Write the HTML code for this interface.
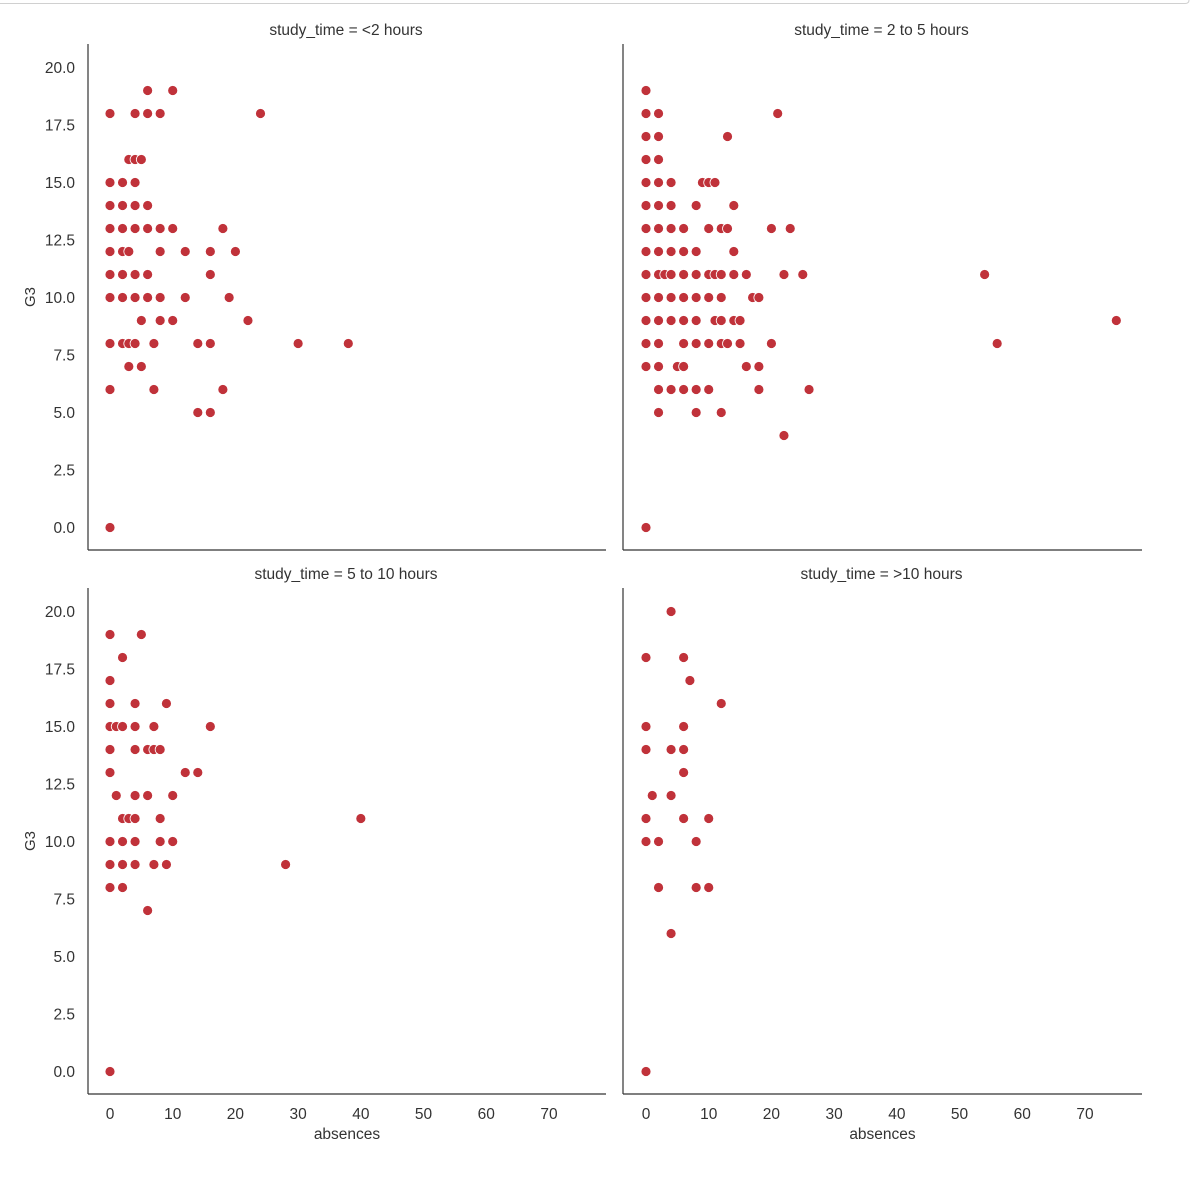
<!DOCTYPE html>
<html><head><meta charset="utf-8"><style>
html,body{margin:0;padding:0;background:#fff;}
svg{display:block;font-family:"Liberation Sans",Arial,sans-serif;}
</style></head><body>
<svg id="s" width="1192" height="1180" xmlns="http://www.w3.org/2000/svg">
<rect x="0" y="0" width="1192" height="1180" fill="#fff"/>
<path d="M0,3.5 H1185 Q1189,3.5 1189,0" fill="none" stroke="#d0d0d0"/>
</svg>
<script>
var s=document.getElementById('s'),NS='http://www.w3.org/2000/svg';
function el(t,a,txt){var e=document.createElementNS(NS,t);for(var k in a)e.setAttribute(k,a[k]);if(txt!=null)e.textContent=txt;s.appendChild(e);return e;}
var panels=[
{x0:88,x1:606,y0:44,y1:550,xz:110,yz:527,title:"study_time = <2 hours",left:1,bottom:0,
d:{19:[6,10],18:[0,4,6,8,24],16:[3,4,5],15:[0,2,4],14:[0,2,4,6],13:[0,2,4,6,8,10,18],12:[0,2,3,8,12,16,20],11:[0,2,4,6,16],10:[0,2,4,6,8,12,19],9:[5,8,10,22],8:[0,2,3,4,7,14,16,30,38],7:[3,5],6:[0,7,18],5:[14,16],0:[0]}},
{x0:623,x1:1142,y0:44,y1:550,xz:646,yz:527,title:"study_time = 2 to 5 hours",left:0,bottom:0,
d:{19:[0],18:[0,2,21],17:[0,2,13],16:[0,2],15:[0,2,4,9,10,11],14:[0,2,4,8,14],13:[0,2,4,6,10,12,13,20,23],12:[0,2,4,6,8,14],11:[0,2,3,4,6,8,10,11,12,14,16,22,25,54],10:[0,2,4,6,8,10,12,17,18],9:[0,2,4,6,8,11,12,14,15,75],8:[0,2,6,8,10,12,13,15,20,56],7:[0,2,5,6,16,18],6:[2,4,6,8,10,18,26],5:[2,8,12],4:[22],0:[0]}},
{x0:88,x1:606,y0:588,y1:1094,xz:110,yz:1071,title:"study_time = 5 to 10 hours",left:1,bottom:1,
d:{19:[0,5],18:[2],17:[0],16:[0,4,9],15:[0,1,2,4,7,16],14:[0,4,6,7,8],13:[0,12,14],12:[1,4,6,10],11:[2,3,4,8,40],10:[0,2,4,8,10],9:[0,2,4,7,9,28],8:[0,2],7:[6],0:[0]}},
{x0:623,x1:1142,y0:588,y1:1094,xz:646,yz:1071,title:"study_time = >10 hours",left:0,bottom:1,
d:{20:[4],18:[0,6],17:[7],16:[12],15:[0,6],14:[0,4,6],13:[6],12:[1,4],11:[0,6,10],10:[0,2,8],8:[2,8,10],6:[4],0:[0]}}];
var xs=6.271,ys=23;
panels.forEach(function(p){
 el('line',{x1:p.x0,y1:p.y0,x2:p.x0,y2:p.y1,stroke:'#333','stroke-width':1.2});
 el('line',{x1:p.x0,y1:p.y1,x2:p.x1,y2:p.y1,stroke:'#333','stroke-width':1.2});
 el('text',{x:(p.x0+p.x1)/2-1,y:p.y0-9,'text-anchor':'middle','font-size':15.5,fill:'#333'},p.title);
 if(p.left){for(var v=0;v<=20;v+=2.5){el('text',{x:75,y:p.yz-v*ys+6,'text-anchor':'end','font-size':15.5,fill:'#333'},v.toFixed(1));}
  var cy=(p.y0+p.y1)/2;el('text',{x:35,y:cy,'text-anchor':'middle','font-size':15,fill:'#333',transform:'rotate(-90 35 '+cy+')'},'G3');}
 if(p.bottom){for(var v=0;v<=70;v+=10){el('text',{x:p.xz+v*xs,y:1119,'text-anchor':'middle','font-size':15.5,fill:'#333'},''+v);}
  el('text',{x:(p.x0+p.x1)/2,y:1139,'text-anchor':'middle','font-size':15.5,fill:'#333'},'absences');}
 for(var g in p.d){p.d[g].forEach(function(a){el('circle',{cx:p.xz+a*xs,cy:p.yz-g*ys+0.5,r:5,fill:'#c0323a',stroke:'#fff','stroke-width':0.8});});}
});
</script>
</body></html>
